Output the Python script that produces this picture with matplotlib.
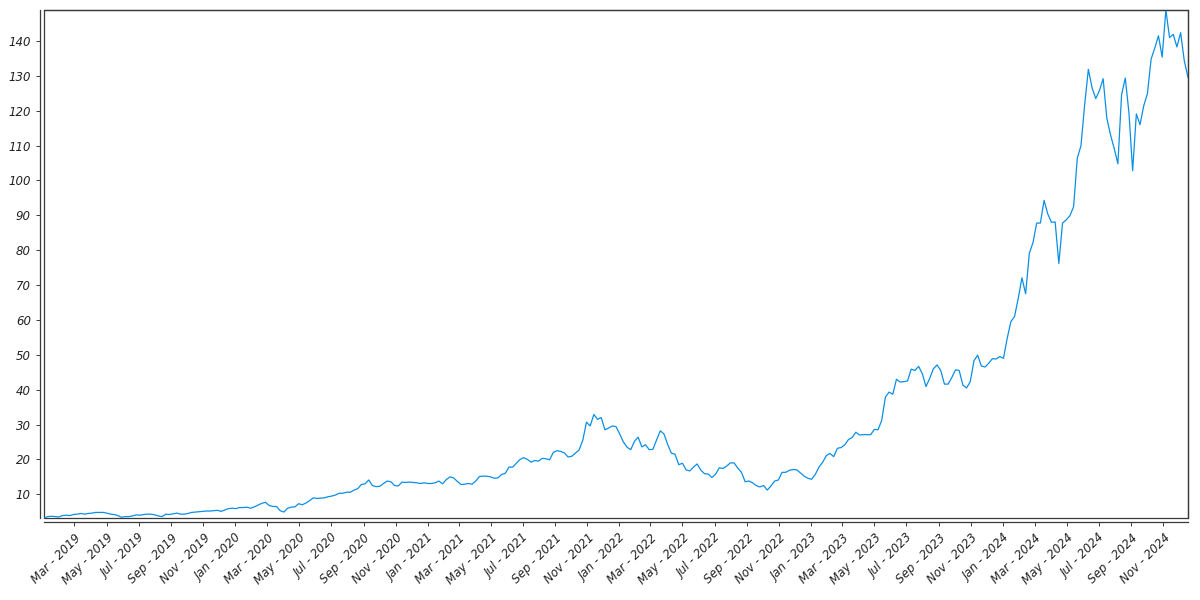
import matplotlib
matplotlib.use("Agg")
import matplotlib.pyplot as plt
import matplotlib.dates as mdates
from matplotlib.ticker import MultipleLocator
import pandas as pd

# Weekly closing prices, grouped by year (Jan 2019 - Dec 2024)
closes_2019 = [3.2, 3.6, 3.7, 3.6,
               3.5, 3.9, 4.0, 3.9,
               4.2, 4.3, 4.5, 4.3, 4.5,
               4.6, 4.8, 4.8, 4.8,
               4.6, 4.3, 4.2, 3.9, 3.4,
               3.6, 3.6, 3.8, 4.1,
               4.0, 4.2, 4.3, 4.3,
               4.1, 3.8, 3.6, 4.3, 4.2,
               4.4, 4.6, 4.3, 4.3,
               4.5, 4.8, 4.9, 5.0,
               5.1, 5.2, 5.2, 5.3, 5.4,
               5.1, 5.5, 5.9, 6.0]
closes_2020 = [5.9, 6.2, 6.2, 6.3, 6.0,
               6.4, 6.9, 7.4, 7.7, 6.8,
               6.5, 6.5, 5.3, 4.9, 6.0,
               6.3, 6.4, 7.3, 7.0,
               7.5, 8.2, 9.0, 8.8,
               8.9, 9.0, 9.3, 9.5,
               9.8, 10.3, 10.3, 10.6, 10.6,
               11.2, 11.6, 12.8, 13.0,
               14.1, 12.5, 12.2, 12.3,
               13.1, 13.8, 13.6, 12.5, 12.4,
               13.5, 13.4, 13.5, 13.4,
               13.3, 13.1, 13.3, 13.1]
closes_2021 = [13.1, 13.3, 13.8, 13.0,
               14.2, 15.0, 14.7, 13.7,
               12.8, 12.9, 13.1, 12.9,
               13.8, 15.1, 15.2, 15.2, 15.0,
               14.6, 14.7, 15.7, 16.0,
               17.8, 17.8, 18.9, 20.0,
               20.5, 20.0, 19.2, 19.7, 19.5,
               20.3, 20.2, 19.9, 22.0,
               22.5, 22.3, 21.9, 20.7,
               20.9, 21.8, 22.7, 25.5,
               30.7, 29.6, 32.9, 31.5,
               32.0, 28.5, 29.0, 29.6, 29.4]
closes_2022 = [27.3, 25.0, 23.5, 22.8,
               25.2, 26.4, 23.6, 24.2,
               22.8, 22.9, 25.6, 28.2, 27.3,
               24.3, 21.8, 21.5, 18.5,
               18.9, 17.0, 16.7, 17.8,
               18.7, 16.9, 15.9, 15.8, 14.8,
               15.8, 17.6, 17.4, 18.1,
               19.0, 19.0, 17.5, 16.3,
               13.6, 13.8, 13.3, 12.5, 12.1,
               12.5, 11.2, 12.4, 13.8,
               14.1, 16.3, 16.3, 16.9,
               17.1, 17.0, 16.1, 15.2, 14.6]
closes_2023 = [14.3, 15.7, 17.8, 19.2,
               21.1, 21.7, 20.8, 23.2,
               23.4, 24.2, 25.7, 26.3, 27.8,
               27.0, 27.1, 27.1, 27.1,
               28.6, 28.5, 31.2, 37.9,
               39.3, 38.7, 43.0, 42.2, 42.3,
               42.5, 45.9, 45.5, 46.7,
               44.6, 40.9, 43.2, 46.0,
               47.1, 45.5, 41.6, 41.6, 43.5,
               45.7, 45.5, 41.3, 40.5,
               42.3, 48.3, 49.9, 46.8,
               46.5, 47.6, 48.9, 48.8, 49.5]
closes_2024 = [49.0, 54.7, 59.5, 61.0,
               66.2, 72.1, 67.5, 79.1,
               82.2, 87.8, 87.8, 94.3, 90.4,
               88.0, 88.1, 76.2, 87.8,
               88.7, 89.9, 92.5, 106.4, 110.0,
               121.8, 131.9, 126.6, 123.5,
               125.8, 129.2, 117.9, 113.1,
               109.2, 104.8, 124.6, 129.4, 119.4,
               102.8, 119.1, 116.0, 121.4,
               124.9, 134.8, 138.0, 141.5, 135.4,
               148.9, 141.0, 141.9, 138.3,
               142.4, 134.3, 129.6]

first_day = "2019-01-02"
last_day = "2024-12-18"

closes = closes_2019 + closes_2020 + closes_2021 + closes_2022 + closes_2023 + closes_2024
dates = pd.date_range(first_day, last_day, periods=len(closes))

line_color = "#0a8fe6"
frame_color = "#3a3a3a"

plt.rcParams["font.style"] = "italic"

fig = plt.figure(figsize=(12, 6), dpi=100)
ax = fig.add_axes([44 / 1200, 82 / 600, 1144 / 1200, 508 / 600])

ax.plot(dates, closes, color=line_color, linewidth=0.9)
ax.margins(x=0, y=0)

# inner frame + offset left/bottom spines
ax.patch.set_edgecolor(frame_color)
ax.patch.set_linewidth(0.9)
for side in ["top", "right"]:
    ax.spines[side].set_color(frame_color)
    ax.spines[side].set_linewidth(0.9)
for side in ["left", "bottom"]:
    ax.spines[side].set_position(("outward", 3))
    ax.spines[side].set_color(frame_color)
    ax.spines[side].set_linewidth(0.9)

ax.yaxis.set_major_locator(MultipleLocator(10))
ax.xaxis.set_major_locator(mdates.MonthLocator(bymonth=[1, 3, 5, 7, 9, 11]))
ax.xaxis.set_major_formatter(mdates.DateFormatter("%b - %Y"))

ax.tick_params(axis="both", length=3, width=0.7, color=frame_color,
               labelsize=8.5, labelcolor="#222222")
plt.setp(ax.get_xticklabels(), rotation=45, ha="right", rotation_mode="anchor")

fig.savefig("out.png", dpi=100)
